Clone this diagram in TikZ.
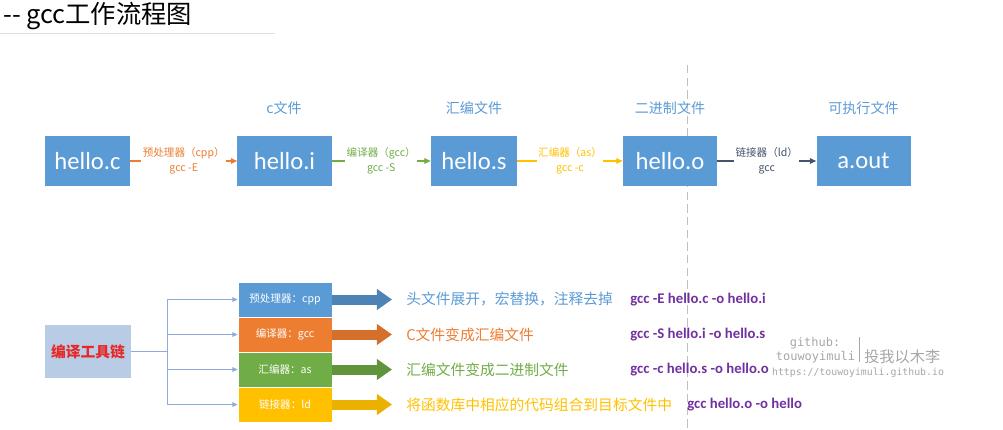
\documentclass[tikz,border=0pt]{standalone}
\usepackage{fontspec}
\setmainfont{Noto Sans CJK SC}
\newfontfamily\latf{Carlito}
\newfontfamily\monof{DejaVu Sans Mono}
\usepackage{tikz}
\usetikzlibrary{arrows.meta, positioning}
\definecolor{BoxBlue}{RGB}{91,155,213}
\definecolor{BoxOrange}{RGB}{237,125,49}
\definecolor{BoxGreen}{RGB}{112,173,71}
\definecolor{BoxGold}{RGB}{255,192,0}
\definecolor{LinkGray}{RGB}{68,84,106}
\definecolor{CmdPurple}{RGB}{112,48,160}
\definecolor{ChainFill}{RGB}{184,204,230}
\definecolor{ChainRed}{RGB}{230,40,40}
\definecolor{TreeLine}{RGB}{143,170,220}
\begin{document}
\begin{tikzpicture}[x=0.025cm, y=-0.025cm,
  file/.style={fill=BoxBlue, text=white, font=\latf\fontsize{17.5}{20}\selectfont, minimum width=2.35cm, minimum height=1.25cm, inner sep=0pt},
  head/.style={text=BoxBlue, font=\fontsize{10}{12}\selectfont, inner sep=0pt},
  elab/.style={fill=white, font=\fontsize{7.5}{10.5}\selectfont, align=center, inner sep=1pt},
  earr/.style={-{Triangle[length=1.6mm, width=1.4mm]}, line width=0.9pt},
  tool/.style={draw=white, line width=0.6pt, text=white, font=\fontsize{7.5}{9}\selectfont, minimum width=2.35cm, minimum height=0.875cm, inner sep=0pt},
  barr/.style={-{Triangle[length=0.375cm, width=0.5cm]}, line width=0.25cm, shorten >=0.35cm},
  desc/.style={anchor=west, font=\fontsize{10.5}{12}\selectfont, inner sep=0pt},
  cmd/.style={anchor=west, text=CmdPurple, font=\latf\bfseries\fontsize{10.5}{12}\selectfont, inner sep=0pt},
  tline/.style={TreeLine, line width=0.7pt},
  tarr/.style={tline, -{Triangle[length=1.3mm, width=1.2mm]}},
  wm/.style={text=black!35, font=\monof\fontsize{8.5}{10}\selectfont, inner sep=0pt}]
\useasboundingbox (0,0) rectangle (1003,429);
\draw[black!25, dash pattern=on 6pt off 3pt] (687,65) -- (687,429);
\node[anchor=west, font=\fontsize{18}{20}\selectfont, inner sep=0pt] (title) at (3,16) {-{}- gcc工作流程图};
\draw[black!12] (0,33) -- (275,33);
\node[head] (h1) at (284,108) {c文件};
\node[head] (h2) at (474,108) {汇编文件};
\node[head] (h3) at (670,108) {二进制文件};
\node[head] (h4) at (863.5,108) {可执行文件};
\node[file, minimum width=2.125cm] (c0) at (87.5,161) {hello.c};
\node[file] (c1) at (284.5,161) {hello.i};
\node[file, minimum width=2.15cm] (c2) at (474,161) {hello.s};
\node[file] (c3) at (670,161) {hello.o};
\node[file] (c4) at (863.5,161) {a.out};
\draw[earr, BoxOrange] (c0) -- node[elab, text=BoxOrange] {预处理器（cpp）\\gcc -E} (c1);
\draw[earr, BoxGreen] (c1) -- node[elab, text=BoxGreen] {编译器（gcc）\\gcc -S} (c2);
\draw[earr, BoxGold] (c2) -- node[elab, text=BoxGold] {汇编器（as）\\gcc -c} (c3);
\draw[earr, LinkGray] (c3) -- node[elab, text=LinkGray] {链接器（ld）\\gcc} (c4);
\node[fill=ChainFill, text=ChainRed, font=\bfseries\fontsize{10.5}{12}\selectfont, minimum width=2.15cm, minimum height=1.325cm, inner sep=0pt] (tc) at (88,351.5) {编译工具链};
\node[tool, fill=BoxBlue] (t1) at (285,299.5) {预处理器：cpp};
\node[tool, fill=BoxOrange] (t2) at (285,334.5) {编译器：gcc};
\node[tool, fill=BoxGreen] (t3) at (285,369.5) {汇编器：as};
\node[tool, fill=BoxGold] (t4) at (285,404.5) {链接器：ld};
\coordinate (br) at (167,351.5);
\draw[tline] (tc) -- (br);
\draw[tarr] (br) |- (t1); \draw[tarr] (br) |- (t2); \draw[tarr] (br) |- (t3); \draw[tarr] (br) |- (t4);
\node[desc, text=BoxBlue] (d1) at (406,299.5) {头文件展开，宏替换，注释去掉};
\node[desc, text=BoxOrange] (d2) at (406,334.5) {C文件变成汇编文件};
\node[desc, text=BoxGreen] (d3) at (406,369.5) {汇编文件变成二进制文件};
\node[desc, text=BoxGold] (d4) at (406,404.5) {将函数库中相应的代码组合到目标文件中};
\draw[barr, BoxBlue!85!black] (t1.east) -- (d1.west); \draw[barr, BoxOrange!90!black] (t2.east) -- (d2.west);
\draw[barr, BoxGreen!85!black] (t3.east) -- (d3.west); \draw[barr, BoxGold!92!black] (t4.east) -- (d4.west);
\node[cmd] (m1) at (630,299.5) {gcc -E hello.c -o hello.i};
\node[cmd] (m2) at (630,334.5) {gcc -S hello.i -o hello.s};
\node[cmd] (m3) at (630,369.5) {gcc -c hello.s -o hello.o};
\node[cmd] (m4) at (687,404.5) {gcc hello.o -o hello};
\node[wm] (w1) at (815,343) {github:};
\node[wm] (w2) at (815.5,357) {touwoyimuli};
\draw[black!35] (859,337) -- (859,362);
\node[wm, anchor=west, font=\fontsize{10.8}{12}\selectfont] (w3) at (864,357) {投我以木李};
\node[wm, font=\monof\fontsize{7}{8}\selectfont] (w4) at (858,373) {https://touwoyimuli.github.io};
\end{tikzpicture}
\end{document}
